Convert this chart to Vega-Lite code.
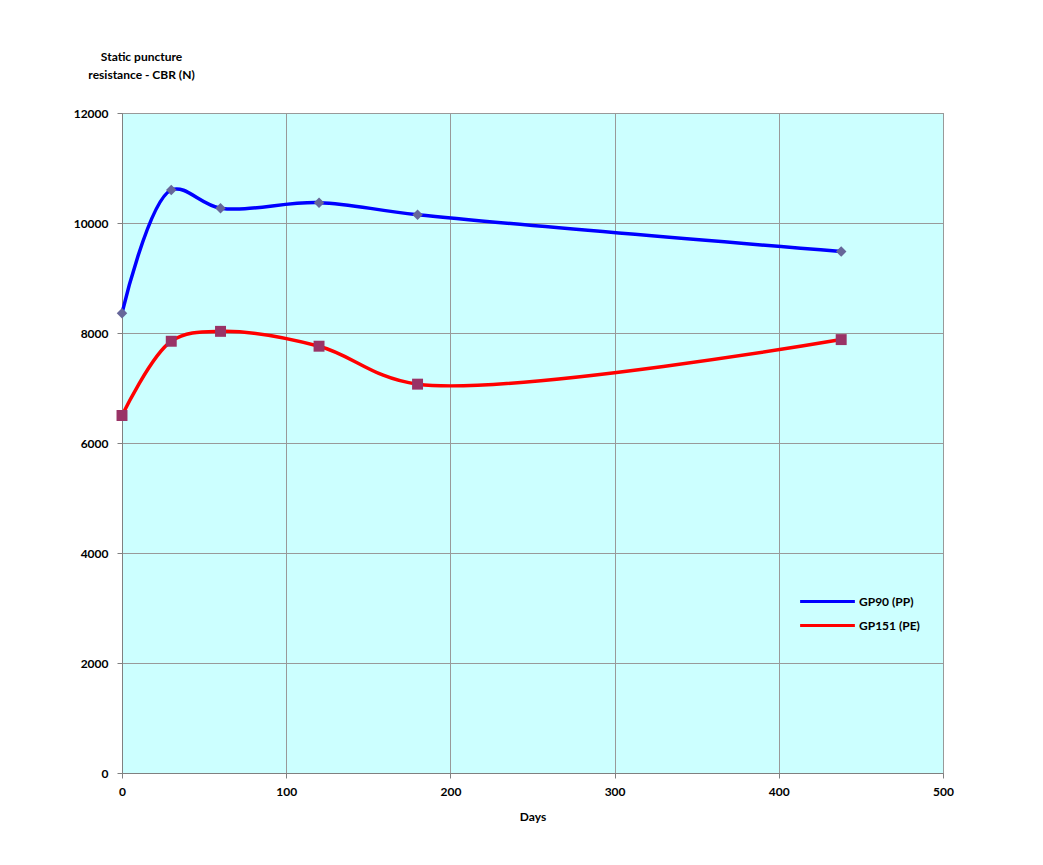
{
  "$schema": "https://vega.github.io/schema/vega-lite/v6.json",
  "autosize": {"type": "none"},
  "width": 821,
  "height": 660,
  "padding": {"left": 122, "top": 113, "right": 100, "bottom": 92},
  "background": "white",
  "config": {
    "font": "Lato",
    "view": {"fill": "#CCFFFF", "stroke": "#808080", "strokeWidth": 1}
  },
  "data": {
    "values": [
      {"series": "GP90 (PP)", "days": 0, "cbr": 8360},
      {"series": "GP90 (PP)", "days": 30, "cbr": 10600},
      {"series": "GP90 (PP)", "days": 60, "cbr": 10270},
      {"series": "GP90 (PP)", "days": 120, "cbr": 10370},
      {"series": "GP90 (PP)", "days": 180, "cbr": 10150},
      {"series": "GP90 (PP)", "days": 438, "cbr": 9480},
      {"series": "GP151 (PE)", "days": 0, "cbr": 6500},
      {"series": "GP151 (PE)", "days": 30, "cbr": 7850},
      {"series": "GP151 (PE)", "days": 60, "cbr": 8030},
      {"series": "GP151 (PE)", "days": 120, "cbr": 7760},
      {"series": "GP151 (PE)", "days": 180, "cbr": 7070},
      {"series": "GP151 (PE)", "days": 438, "cbr": 7880}
    ]
  },
  "encoding": {
    "x": {
      "field": "days", "type": "quantitative",
      "scale": {"domain": [0, 500], "nice": false},
      "axis": {
        "values": [0, 100, 200, 300, 400, 500],
        "format": "d", "labelFlush": false,
        "title": "Days",
        "titleFontSize": 12, "titleFontWeight": "bold", "titleColor": "black", "titlePadding": 14,
        "labelFontSize": 12, "labelFontWeight": "bold", "labelColor": "black", "labelPadding": 8,
        "tickSize": 5, "tickColor": "#808080", "domainColor": "#808080",
        "grid": true, "gridColor": "#999999", "gridWidth": 1
      }
    },
    "y": {
      "field": "cbr", "type": "quantitative",
      "scale": {"domain": [0, 12000], "nice": false},
      "axis": {
        "values": [0, 2000, 4000, 6000, 8000, 10000, 12000],
        "format": "d",
        "title": ["Static puncture", "resistance - CBR (N)"],
        "titleAngle": 0, "titleAlign": "center", "titleBaseline": "top",
        "titleX": 19, "titleY": -62, "titleLineHeight": 18,
        "titleFontSize": 12, "titleFontWeight": "bold", "titleColor": "black",
        "labelFontSize": 12, "labelFontWeight": "bold", "labelColor": "black", "labelPadding": 9,
        "tickSize": 5, "tickColor": "#808080", "domainColor": "#808080",
        "grid": true, "gridColor": "#999999", "gridWidth": 1
      }
    }
  },
  "layer": [
    {
      "mark": {"type": "line", "interpolate": "catmull-rom", "strokeWidth": 3.5},
      "encoding": {
        "color": {
          "field": "series", "type": "nominal",
          "scale": {"domain": ["GP90 (PP)", "GP151 (PE)"], "range": ["#0000FF", "#FF0000"]},
          "legend": {
            "title": null, "orient": "none", "legendX": 690, "legendY": 473,
            "symbolType": "M-2,0L2,0", "symbolSize": 750, "symbolStrokeWidth": 3,
            "labelFontSize": 12, "labelFontWeight": "bold", "labelColor": "black",
            "labelOffset": 16, "rowPadding": 2
          }
        }
      }
    },
    {
      "mark": {"type": "point", "filled": true, "opacity": 1},
      "encoding": {
        "fill": {
          "condition": {"test": "datum.series === 'GP90 (PP)'", "value": "#666699"},
          "value": "#993366"
        },
        "shape": {
          "condition": {"test": "datum.series === 'GP90 (PP)'", "value": "diamond"},
          "value": "square"
        },
        "size": {
          "condition": {"test": "datum.series === 'GP90 (PP)'", "value": 110},
          "value": 120
        }
      }
    }
  ]
}
